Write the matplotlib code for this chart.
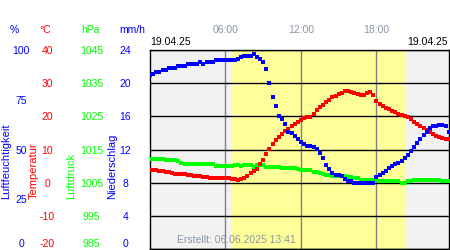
import numpy as np
import matplotlib.pyplot as plt

plt.rcParams['font.family'] = ['Liberation Sans', 'DejaVu Sans']
plt.rcParams['axes.unicode_minus'] = False

# 15 minute readings, 19.04.25 00:00 - 23:45
hours = np.arange(96) * 0.25

humidity = [
    87.6, 87.9, 88.9, 88.9, 89.9, 89.9, 90.9, 90.9, 90.9, 91.8, 91.8, 91.8, 92.8, 92.8, 92.8, 92.8,
    93.9, 92.8, 93.9, 93.9, 93.9, 94.9, 94.9, 94.9, 94.9, 94.9, 94.9, 94.9, 95.5, 96.6, 97.0, 97.0,
    97.2, 98.2, 96.6, 95.5, 93.9, 90.4, 83.6, 76.3, 71.7, 66.7, 65.2, 62.6, 58.6, 58.1, 56.6, 55.4,
    54.0, 52.8, 52.0, 52.0, 51.5, 50.5, 48.0, 45.5, 42.4, 40.4, 38.1, 37.4, 37.4, 36.9, 35.1, 34.3,
    34.3, 33.2, 33.2, 33.0, 33.0, 33.0, 33.0, 33.0, 36.0, 37.1, 38.4, 39.4, 40.7, 41.7, 42.7, 43.3,
    44.2, 45.7, 47.3, 49.0, 51.4, 53.5, 55.3, 57.1, 58.8, 60.6, 61.6, 61.9, 62.1, 62.5, 61.6, 58.6,
]

temperature = [
    3.9, 3.9, 3.8, 3.6, 3.5, 3.1, 3.1, 2.9, 2.6, 2.6, 2.6, 2.6, 2.3, 2.3, 2.1, 2.0,
    2.0, 1.7, 1.7, 1.4, 1.5, 1.5, 1.5, 1.5, 1.5, 1.5, 1.1, 1.1, 0.9, 1.1, 1.5, 2.1,
    3.0, 3.6, 4.2, 5.5, 6.9, 8.5, 10.2, 11.8, 12.9, 13.9, 14.7, 15.5, 16.3, 17.0, 17.8, 18.3,
    18.8, 19.5, 19.7, 19.8, 20.8, 21.8, 22.8, 23.4, 24.2, 25.0, 25.8, 26.2, 26.7, 27.1, 27.6, 27.6,
    27.4, 27.0, 26.7, 26.5, 26.4, 27.0, 27.3, 26.4, 24.5, 23.8, 23.2, 22.6, 22.1, 21.7, 21.2, 20.8,
    20.5, 20.2, 19.7, 19.1, 18.3, 17.7, 17.1, 16.5, 16.0, 15.4, 14.8, 14.2, 13.8, 13.4, 13.2, 13.1,
]

pressure = (
    [1012.2] * 5 + [1011.9] * 4 + [1011.5, 1011.0, 1010.7, 1010.7] + [1010.5] * 3
    + [1010.5] * 5 + [1010.1] * 6 + [1010.4, 1010.4, 1010.1, 1010.4, 1010.4]
    + [1010.4, 1009.8, 1010.2, 1010.2, 1010.2] + [1009.8] * 5 + [1009.5] * 5 + [1009.0]
    + [1008.7] * 4 + [1008.3] * 2 + [1007.9, 1007.7, 1007.3, 1007.3] + [1007.1] * 4 + [1006.9, 1006.8]
    + [1006.6, 1006.3, 1006.3] + [1005.8] * 5 + [1005.7] + [1005.5] * 7
    + [1005.0, 1005.0, 1005.5, 1005.5] + [1005.7] * 9 + [1005.4] * 3
)

sunrise, sunset = 6.5, 20.33
time_ticks = [6, 12, 18]
time_labels = ['06:00', '12:00', '18:00']

BLUE = '#0000ff'
RED = '#ff0000'
GREEN = '#00ff00'
GREY_TXT = '#8a96a3'

fig = plt.figure(figsize=(4.5, 2.5), dpi=100)
ax = fig.add_axes([150 / 450, 1 - 249 / 250, 299 / 450, 199 / 250])
ax.set_facecolor('#f2f2f2')
ax.axvspan(sunrise, sunset, color='#ffff99', lw=0, zorder=1)
ax.set_xlim(0, 23.77)
ax.set_ylim(0, 24)
ax.set_yticks(range(0, 25, 4))
ax.grid(axis='y', color='black', lw=1)
ax.set_xticks(time_ticks, time_labels)
ax.grid(axis='x', color='#808080', lw=1)
ax.xaxis.tick_top()
ax.tick_params(axis='x', length=0, pad=11, labelsize=7.5, labelcolor=GREY_TXT)
ax.tick_params(axis='y', length=0, labelleft=False)
for s in ax.spines.values():
    s.set_color('black')
    s.set_linewidth(1)


def side_axis(lim, ticks, color, frac):
    a = ax.twinx()
    a.set_ylim(*lim)
    a.set_yticks(ticks)
    a.yaxis.tick_left()
    a.spines['left'].set_position(('axes', frac))
    for s in a.spines.values():
        s.set_visible(False)
    a.tick_params(axis='y', length=0, pad=0, labelsize=7.5, labelcolor=color)
    labels = a.get_yticklabels()
    for lbl in labels:
        lbl.set_ha('center')
    labels[0].set_va('bottom')
    return a


ax_r = side_axis((0, 24), range(0, 25, 4), BLUE, -0.083)
ax_p = side_axis((985, 1045), range(985, 1046, 10), GREEN, -0.196)
ax_t = side_axis((-20, 40), range(-20, 41, 10), RED, -0.344)
ax_h = side_axis((0, 100), range(0, 101, 25), BLUE, -0.431)

ax_p.plot(hours, pressure, 's', color=GREEN, ms=2.3, mew=0)
ax_t.plot(hours, temperature, 's', color=RED, ms=2.3, mew=0)
ax_h.plot(hours, humidity, 's', color=BLUE, ms=2.3, mew=0)

ax.annotate('19.04.25', (0, 1), xycoords='axes fraction', xytext=(0, 2),
            textcoords='offset points', ha='left', va='bottom', fontsize=7.5)
ax.annotate('19.04.25', (1, 1), xycoords='axes fraction', xytext=(-1, 2),
            textcoords='offset points', ha='right', va='bottom', fontsize=7.5)
ax.text(0.288, 0.045, 'Erstellt: 06.06.2025 13:41', transform=ax.transAxes,
        ha='center', va='center', fontsize=7.5, color=GREY_TXT)

for x, txt, c in [(14, '%', BLUE), (45, '°C', RED), (90, 'hPa', GREEN), (132, 'mm/h', BLUE)]:
    fig.text(x / 450, 1 - 30 / 250, txt, ha='center', va='center', fontsize=7.5, color=c)

for x, txt, c in [(6.5, 'Luftfeuchtigkeit', BLUE), (34, 'Temperatur', RED),
                  (71.5, 'Luftdruck', GREEN), (112, 'Niederschlag', BLUE)]:
    fig.text(x / 450, 1 - 199 / 250, txt, rotation=90, ha='center', va='bottom',
             fontsize=8, color=c)

fig.savefig('out.png', dpi=100)
